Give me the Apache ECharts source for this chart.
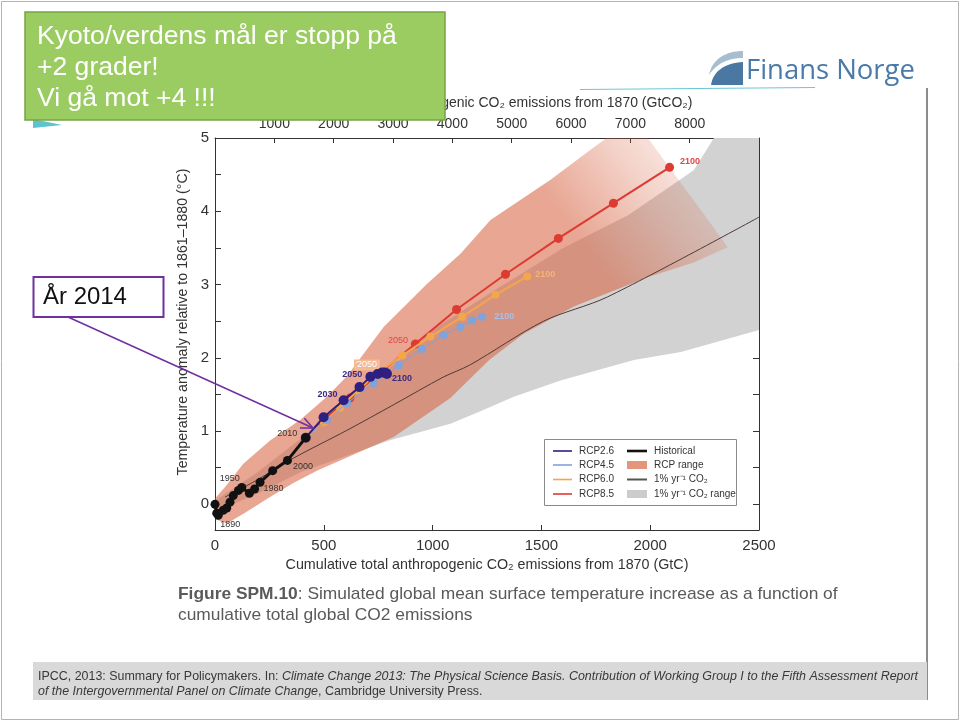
<!DOCTYPE html>
<html>
<head>
<meta charset="utf-8">
<script src="https://cdn.jsdelivr.net/npm/echarts@6.0.0/dist/echarts.min.js"></script>
<style>
html,body{margin:0;padding:0;background:#ffffff;}
#chart{width:960px;height:721px;}
</style>
</head>
<body>
<div id="chart"></div>
<script>
// ---------------- data ----------------
const gtco2PerGtc = 3.667;
const xTickInterval = 500;
const topTickLabelsGtCO2 = [1000, 2000, 3000, 4000, 5000, 6000, 7000, 8000];
const yMinorTicks = [0, 0.5, 1, 1.5, 2, 2.5, 3, 3.5, 4, 4.5, 5];
const yMajorTicks = [0, 1, 2, 3, 4, 5];

// Historical (decadal), cumulative GtC vs temperature anomaly
const histYears = [1870, 1880, 1890, 1900, 1910, 1920, 1930, 1940, 1950, 1960, 1970, 1980, 1990, 2000, 2010];
const histX = [0, 8, 15, 38, 54, 69, 84, 108, 123, 158, 182, 207, 265, 333, 417];
const histY = [0.00, -0.12, -0.15, -0.08, -0.05, 0.03, 0.12, 0.19, 0.23, 0.15, 0.21, 0.30, 0.46, 0.60, 0.91];

// RCP scenarios (decadal 2010..2100)
const rcpYears = [2010, 2020, 2030, 2040, 2050, 2060, 2070, 2080, 2090, 2100];
const rcp26X = [417, 499, 591, 664, 714, 747, 767, 780, 788, 790];
const rcp26Y = [0.91, 1.19, 1.42, 1.60, 1.74, 1.78, 1.80, 1.80, 1.79, 1.78];
const rcp45X = [417, 514, 606, 729, 844, 951, 1051, 1128, 1182, 1228];
const rcp45Y = [0.91, 1.15, 1.38, 1.65, 1.90, 2.12, 2.31, 2.42, 2.51, 2.56];
const rcp60X = [417, 500, 575, 655, 740, 860, 990, 1136, 1289, 1435];
const rcp60Y = [0.91, 1.12, 1.32, 1.55, 1.78, 2.03, 2.29, 2.56, 2.86, 3.11];
const rcp85X = [417, 510, 620, 760, 921, 1110, 1335, 1578, 1831, 2089];
const rcp85Y = [0.91, 1.18, 1.45, 1.80, 2.19, 2.66, 3.14, 3.63, 4.11, 4.60];

// 1% per year CO2 idealised line
const onePctX = [46, 192, 360, 606, 821, 1051, 1170, 1510, 1803, 2500];
const onePctY = [0.10, 0.33, 0.63, 1.01, 1.36, 1.74, 1.90, 2.50, 2.83, 3.92];

// RCP range envelope
const rcpRangeUpperX = [0, 50, 129, 253, 391, 514, 606, 775, 975, 1128, 1266, 1542, 1726, 1800, 1990, 2100, 2250, 2356];
const rcpRangeUpperY = [0.08, 0.25, 0.55, 0.87, 1.15, 1.47, 1.75, 2.42, 3.01, 3.42, 3.88, 4.43, 4.84, 5.00, 5.00, 4.55, 3.95, 3.51];
const rcpRangeLowerX = [0, 54, 129, 253, 360, 468, 575, 821, 1082, 1260, 1418, 1649, 1988, 2200, 2356];
const rcpRangeLowerY = [-0.20, -0.26, -0.13, 0.10, 0.29, 0.46, 0.60, 0.92, 1.45, 1.97, 2.33, 2.70, 3.10, 3.30, 3.51];

// 1% per year CO2 range envelope
const onePctRangeUpperX = [0, 200, 417, 600, 860, 1036, 1300, 1600, 1900, 2200, 2293, 2500];
const onePctRangeUpperY = [0.05, 0.45, 0.95, 1.38, 2.00, 2.45, 2.95, 3.50, 3.95, 4.56, 5.00, 5.00];
const onePctRangeLowerX = [0, 200, 400, 545, 800, 1082, 1220, 1373, 1588, 1925, 2141, 2500];
const onePctRangeLowerY = [-0.10, 0.15, 0.45, 0.60, 0.87, 1.10, 1.27, 1.47, 1.69, 1.97, 2.08, 2.38];

// Legend entries
const legendCol1Names = ['RCP2.6', 'RCP4.5', 'RCP6.0', 'RCP8.5'];
const legendCol2Names = ['Historical', 'RCP range', '1% yr\u207B\u00B9 CO\u2082', '1% yr\u207B\u00B9 CO\u2082 range'];

// ---------------- styling ----------------
const FONT = '"Liberation Sans", Arial, Helvetica, sans-serif';
const C26 = '#2e1f80', C45 = '#7fa3dc', C60 = '#f4a64c', C85 = '#dd3a32';
const CHIST = '#111111', CONE = '#4d3b36';
const SALMON = 'rgba(214,96,62,0.56)';
const GRAY = '#d2d2d2';
const PURPLE = '#7030a0';

const mctx = document.createElement('canvas').getContext('2d');
function textW(font, s) { mctx.font = font; return mctx.measureText(s).width; }

function pointsData(xs, ys, years, labels, color) {
  return xs.map((x, i) => {
    const item = { value: [x, ys[i]] };
    const spec = labels[years[i]];
    if (spec) {
      item.label = Object.assign({
        show: true, formatter: String(years[i]), color: color, fontSize: 9,
        fontFamily: FONT
      }, spec);
    }
    return item;
  });
}

function lineSeries(name, xs, ys, years, labels, color, labelColor, width, size, z) {
  return {
    type: 'line', name: name, z: z, animation: false,
    data: pointsData(xs, ys, years, labels, labelColor),
    symbol: 'circle', symbolSize: size,
    lineStyle: { color: color, width: width },
    itemStyle: { color: color },
    emphasis: { disabled: true }
  };
}

function bandSeries(name, ux, uy, lx, ly, fill, z) {
  return {
    type: 'custom', name: name, z: z, clip: true, silent: true, animation: false,
    data: [[0, 0]],
    renderItem: function (params, api) {
      const pts = [];
      for (let i = 0; i < ux.length; i++) pts.push(api.coord([ux[i], uy[i]]));
      for (let i = lx.length - 1; i >= 0; i--) pts.push(api.coord([lx[i], ly[i]]));
      return { type: 'polygon', shape: { points: pts }, style: { fill: fill } };
    }
  };
}

const salmonFill = new echarts.graphic.LinearGradient(1, 0, 0.65, 0.35, [
  { offset: 0, color: 'rgba(214,96,62,0.02)' },
  { offset: 0.42, color: 'rgba(214,96,62,0.28)' },
  { offset: 0.8, color: SALMON },
  { offset: 1, color: SALMON }
]);

const topTickValues = topTickLabelsGtCO2.map(v => v / gtco2PerGtc);

// ---------------- text fitting ----------------
const greenLines = ['Kyoto/verdens mål er stopp på', '+2 grader!', 'Vi gå mot +4 !!!'];
const greenFs = 28 * 360 / textW('28px ' + FONT, greenLines[0]);
const aarText = 'År 2014';
const aarFs = 21 * 84 / textW('21px ' + FONT, aarText);

const capBold = 'Figure SPM.10';
const capRest1 = ': Simulated global mean surface temperature increase as a function of';
const capLine2 = 'cumulative total global CO2 emissions';
const capFs = 17 * 660 / (textW('bold 17px ' + FONT, capBold) + textW('17px ' + FONT, capRest1));

const citeA = 'IPCC, 2013: Summary for Policymakers. In: ';
const citeB = 'Climate Change 2013: The Physical Science Basis. Contribution of Working Group I to the Fifth Assessment Report';
const citeC = 'of the Intergovernmental Panel on Climate Change';
const citeD = ', Cambridge University Press.';
const citeFs = 13;
const citeScale = 880 / (textW(citeFs + 'px ' + FONT, citeA) + textW('italic ' + citeFs + 'px ' + FONT, citeB));

const logoText = 'Finans Norge';
const LOGOFONT = '"Open Sans", "Noto Sans", sans-serif';
const logoFs = 28 * 169 / textW('28px ' + LOGOFONT, logoText);

// logo icon shapes sampled from cubic curves
function cubic(p0, p1, p2, p3, n) {
  const out = [];
  for (let k = 0; k <= n; k++) {
    const t = k / n, u = 1 - t;
    out.push([
      u*u*u*p0[0] + 3*u*u*t*p1[0] + 3*u*t*t*p2[0] + t*t*t*p3[0],
      u*u*u*p0[1] + 3*u*u*t*p1[1] + 3*u*t*t*p2[1] + t*t*t*p3[1]
    ]);
  }
  return out;
}
const logoDark = cubic([711, 85], [713, 71], [725, 63], [743, 62], 16).concat([[743, 85]]);
const logoLight = cubic([709, 75], [712, 59], [726, 51], [743, 51], 16)
  .concat(cubic([743, 58], [729, 58], [717, 63], [709, 75], 16));

// ---------------- graphic overlays ----------------
const arrowFrom = [68, 317], arrowTo = [313, 428];
const ang = Math.atan2(arrowTo[1] - arrowFrom[1], arrowTo[0] - arrowFrom[0]);
const headL = 13, headA = 0.42;
const head1 = [arrowTo[0] - headL * Math.cos(ang - headA), arrowTo[1] - headL * Math.sin(ang - headA)];
const head2 = [arrowTo[0] - headL * Math.cos(ang + headA), arrowTo[1] - headL * Math.sin(ang + headA)];

const legendColors1 = [C26, C45, C60, C85];
const legendRowsY = [451, 465, 479.5, 494];
const legendEls = [
  { type: 'rect', shape: { x: 544.5, y: 439.5, width: 192, height: 66 }, style: { fill: '#ffffff', stroke: '#8a8a8a', lineWidth: 1 }, z: 50 }
];
legendCol1Names.forEach((n, i) => {
  legendEls.push({ type: 'line', shape: { x1: 553, y1: legendRowsY[i], x2: 572, y2: legendRowsY[i] }, style: { stroke: legendColors1[i], lineWidth: 1.6 }, z: 51 });
  legendEls.push({ type: 'text', x: 579, y: legendRowsY[i], style: { text: n, fill: '#333', fontSize: 10, fontFamily: FONT, verticalAlign: 'middle', textVerticalAlign: 'middle' }, z: 51 });
});
legendCol2Names.forEach((n, i) => {
  const y = legendRowsY[i];
  if (i === 0) legendEls.push({ type: 'line', shape: { x1: 627, y1: y, x2: 647, y2: y }, style: { stroke: '#111', lineWidth: 2.6 }, z: 51 });
  if (i === 1) legendEls.push({ type: 'rect', shape: { x: 627, y: y - 4, width: 20, height: 8 }, style: { fill: '#e4967c' }, z: 51 });
  if (i === 2) legendEls.push({ type: 'line', shape: { x1: 627, y1: y, x2: 647, y2: y }, style: { stroke: '#555', lineWidth: 2 }, z: 51 });
  if (i === 3) legendEls.push({ type: 'rect', shape: { x: 627, y: y - 4, width: 20, height: 8 }, style: { fill: '#cccccc' }, z: 51 });
  legendEls.push({ type: 'text', x: 654, y: y, style: { text: n, fill: '#333', fontSize: 10, fontFamily: FONT, verticalAlign: 'middle', textVerticalAlign: 'middle' }, z: 51 });
});

const graphics = [
  // slide border
  { type: 'rect', shape: { x: 1.5, y: 1.5, width: 957, height: 718 }, style: { fill: 'none', stroke: '#b4b4b4', lineWidth: 1 }, z: 1 },
  // teal decorative swoosh bits
  { type: 'polygon', shape: { points: [[33, 119], [62, 125], [33, 128]] }, style: { fill: '#5cc3cf' }, z: 1 },
  { type: 'line', shape: { x1: 580, y1: 89.5, x2: 815, y2: 87.5 }, style: { stroke: '#6cc6d3', lineWidth: 1.2 }, z: 1 },
  // right frame of the pasted figure
  { type: 'line', shape: { x1: 927, y1: 88, x2: 927, y2: 700 }, style: { stroke: '#8c8c8c', lineWidth: 2 }, z: 1 },
  // citation band
  { type: 'rect', shape: { x: 33, y: 662, width: 894, height: 38 }, style: { fill: '#d9d9d9' }, z: 1 },
  {
    type: 'text', x: 38, y: 676, scaleX: citeScale, z: 2,
    style: {
      text: '{n|' + citeA + '}{i|' + citeB + '}',
      verticalAlign: 'middle', textVerticalAlign: 'middle',
      rich: {
        n: { fontSize: citeFs, fontFamily: FONT, fill: '#383838' },
        i: { fontSize: citeFs, fontFamily: FONT, fontStyle: 'italic', fill: '#383838' }
      }
    }
  },
  {
    type: 'text', x: 38, y: 691, scaleX: citeScale, z: 2,
    style: {
      text: '{i|' + citeC + '}{n|' + citeD + '}',
      verticalAlign: 'middle', textVerticalAlign: 'middle',
      rich: {
        n: { fontSize: citeFs, fontFamily: FONT, fill: '#383838' },
        i: { fontSize: citeFs, fontFamily: FONT, fontStyle: 'italic', fill: '#383838' }
      }
    }
  },
  // figure caption
  {
    type: 'text', x: 178, y: 594, z: 2,
    style: {
      text: '{b|' + capBold + '}{n|' + capRest1 + '}',
      verticalAlign: 'middle', textVerticalAlign: 'middle',
      rich: {
        b: { fontSize: capFs, fontFamily: FONT, fontWeight: 'bold', fill: '#5a5a5a' },
        n: { fontSize: capFs, fontFamily: FONT, fill: '#5a5a5a' }
      }
    }
  },
  { type: 'text', x: 178, y: 615, z: 2, style: { text: capLine2, fontSize: capFs, fontFamily: FONT, fill: '#5a5a5a', verticalAlign: 'middle', textVerticalAlign: 'middle' } },
  // logo
  { type: 'polygon', shape: { points: logoDark }, style: { fill: '#4a78a2' }, z: 2 },
  { type: 'polygon', shape: { points: logoLight }, style: { fill: '#a9bdd0' }, z: 2 },
  { type: 'text', x: 746, y: 85, z: 2, style: { text: logoText, fontSize: logoFs, fontFamily: LOGOFONT, fill: '#4a7aa8', verticalAlign: 'bottom', textVerticalAlign: 'bottom' } },
  // green note box
  { type: 'rect', shape: { x: 25, y: 12, width: 420, height: 108 }, style: { fill: '#9bcc61', stroke: '#76a443', lineWidth: 1.5 }, z: 60 },
  { type: 'text', x: 37, y: 37, z: 61, style: { text: greenLines[0], fontSize: greenFs, fontFamily: FONT, fill: '#ffffff', verticalAlign: 'middle', textVerticalAlign: 'middle' } },
  { type: 'text', x: 37, y: 68, z: 61, style: { text: greenLines[1], fontSize: greenFs, fontFamily: FONT, fill: '#ffffff', verticalAlign: 'middle', textVerticalAlign: 'middle' } },
  { type: 'text', x: 37, y: 99, z: 61, style: { text: greenLines[2], fontSize: greenFs, fontFamily: FONT, fill: '#ffffff', verticalAlign: 'middle', textVerticalAlign: 'middle' } },
  // "År 2014" annotation
  { type: 'rect', shape: { x: 33.5, y: 277, width: 130, height: 40 }, style: { fill: '#ffffff', stroke: PURPLE, lineWidth: 2 }, z: 60 },
  { type: 'text', x: 43, y: 297.5, z: 61, style: { text: aarText, fontSize: aarFs, fontFamily: FONT, fill: '#111', verticalAlign: 'middle', textVerticalAlign: 'middle' } },
  { type: 'line', shape: { x1: arrowFrom[0], y1: arrowFrom[1], x2: arrowTo[0], y2: arrowTo[1] }, style: { stroke: PURPLE, lineWidth: 1.5 }, z: 60 },
  { type: 'polyline', shape: { points: [head1, arrowTo, head2] }, style: { stroke: PURPLE, lineWidth: 1.5, fill: 'none' }, z: 60 }
].concat(legendEls);

// ---------------- chart ----------------
const chart = echarts.init(document.getElementById('chart'), null, { renderer: 'canvas' });

const axisLineStyle = { color: '#333', width: 1 };
const option = {
  backgroundColor: '#ffffff',
  animation: false,
  grid: { left: 215, right: 201, top: 138, bottom: 191, containLabel: false },
  xAxis: [
    {
      type: 'value', position: 'bottom', min: 0, max: 2500, interval: xTickInterval,
      axisLine: { show: true, onZero: false, lineStyle: axisLineStyle },
      axisTick: { show: true, inside: true, length: 5, lineStyle: axisLineStyle },
      axisLabel: { fontSize: 15, color: '#333', margin: 8, fontFamily: FONT, formatter: v => String(v) },
      splitLine: { show: false },
      name: 'Cumulative total anthropogenic CO\u2082 emissions from 1870 (GtC)',
      nameLocation: 'middle', nameGap: 26,
      nameTextStyle: { fontSize: 14.3, color: '#333', fontFamily: FONT }
    },
    {
      type: 'value', position: 'top', min: 0, max: 2500,
      axisLine: { show: true, onZero: false, lineStyle: axisLineStyle },
      axisTick: { show: true, inside: true, length: 5, lineStyle: axisLineStyle, customValues: topTickValues },
      axisLabel: {
        fontSize: 14, color: '#333', margin: 7, fontFamily: FONT, customValues: topTickValues,
        formatter: v => String(Math.round(v * gtco2PerGtc / 1000) * 1000)
      },
      splitLine: { show: false },
      name: 'Cumulative total anthropogenic CO\u2082 emissions from 1870 (GtCO\u2082)',
      nameLocation: 'middle', nameGap: 28,
      nameTextStyle: { fontSize: 14, color: '#333', fontFamily: FONT }
    }
  ],
  yAxis: [
    {
      type: 'value', position: 'left', min: -0.35, max: 5,
      axisLine: { show: true, onZero: false, lineStyle: axisLineStyle },
      axisTick: { show: true, inside: true, length: 6, lineStyle: axisLineStyle, customValues: yMinorTicks },
      axisLabel: { fontSize: 15, color: '#333', margin: 6, fontFamily: FONT, customValues: yMajorTicks },
      splitLine: { show: false },
      name: 'Temperature anomaly relative to 1861\u20131880 (\u00B0C)',
      nameLocation: 'middle', nameGap: 20,
      nameTextStyle: { fontSize: 14.2, color: '#333', fontFamily: FONT, padding: [0, 0, 0, 24] }
    },
    {
      type: 'value', position: 'right', min: -0.35, max: 5,
      axisLine: { show: true, onZero: false, lineStyle: axisLineStyle },
      axisTick: { show: true, inside: true, length: 6, lineStyle: axisLineStyle, customValues: yMinorTicks },
      axisLabel: { show: false },
      splitLine: { show: false }
    }
  ],
  series: [
    bandSeries('1% yr-1 CO2 range', onePctRangeUpperX, onePctRangeUpperY, onePctRangeLowerX, onePctRangeLowerY, GRAY, 1),
    bandSeries('RCP range', rcpRangeUpperX, rcpRangeUpperY, rcpRangeLowerX, rcpRangeLowerY, salmonFill, 2),
    {
      type: 'line', name: '1% yr-1 CO2', z: 3, animation: false, smooth: 0.3,
      data: onePctX.map((x, i) => [x, onePctY[i]]),
      symbol: 'none', lineStyle: { color: CONE, width: 1 }, emphasis: { disabled: true }
    },
    lineSeries('RCP8.5', rcp85X, rcp85Y, rcpYears, {
      2050: { position: 'left', distance: 3, offset: [0, -3] },
      2100: { position: 'right', distance: 6, offset: [0, -6], fontWeight: 'bold' }
    }, C85, '#e04444', 2, 9, 4),
    lineSeries('RCP6.0', rcp60X, rcp60Y, rcpYears, {
      2050: { position: 'left', distance: 3, offset: [10, -9], color: '#ffffff', borderColor: '#f3b98a', borderWidth: 1, backgroundColor: 'rgba(246,196,160,0.55)', padding: [0, 2] },
      2100: { position: 'right', distance: 6, offset: [-2, -2], fontWeight: 'bold' }
    }, C60, '#f6b47a', 2, 8, 5),
    lineSeries('RCP4.5', rcp45X, rcp45Y, rcpYears, {
      2100: { position: 'right', distance: 8, offset: [0, 0], fontWeight: 'bold' }
    }, C45, '#a9c0ea', 1, 8, 6),
    lineSeries('RCP2.6', rcp26X, rcp26Y, rcpYears, {
      2030: { position: 'left', distance: 3, offset: [2, -6], fontWeight: 'bold' },
      2050: { position: 'left', distance: 3, offset: [0, -2], fontWeight: 'bold' },
      2100: { position: 'right', distance: 6, offset: [-6, 5], fontWeight: 'bold' }
    }, C26, '#3a2a80', 2, 10, 7),
    lineSeries('Historical', histX, histY, histYears, {
      1890: { position: 'bottom', distance: 2, offset: [12, -2] },
      1950: { position: 'top', distance: 2, offset: [-12, 2] },
      1980: { position: 'right', distance: 4, offset: [-5, 6] },
      2000: { position: 'right', distance: 3, offset: [-2, 6] },
      2010: { position: 'left', distance: 4, offset: [0, -4] }
    }, CHIST, '#333333', 3, 9, 8)
  ],
  graphic: { elements: graphics }
};
chart.setOption(option);
</script>
</body>
</html>
